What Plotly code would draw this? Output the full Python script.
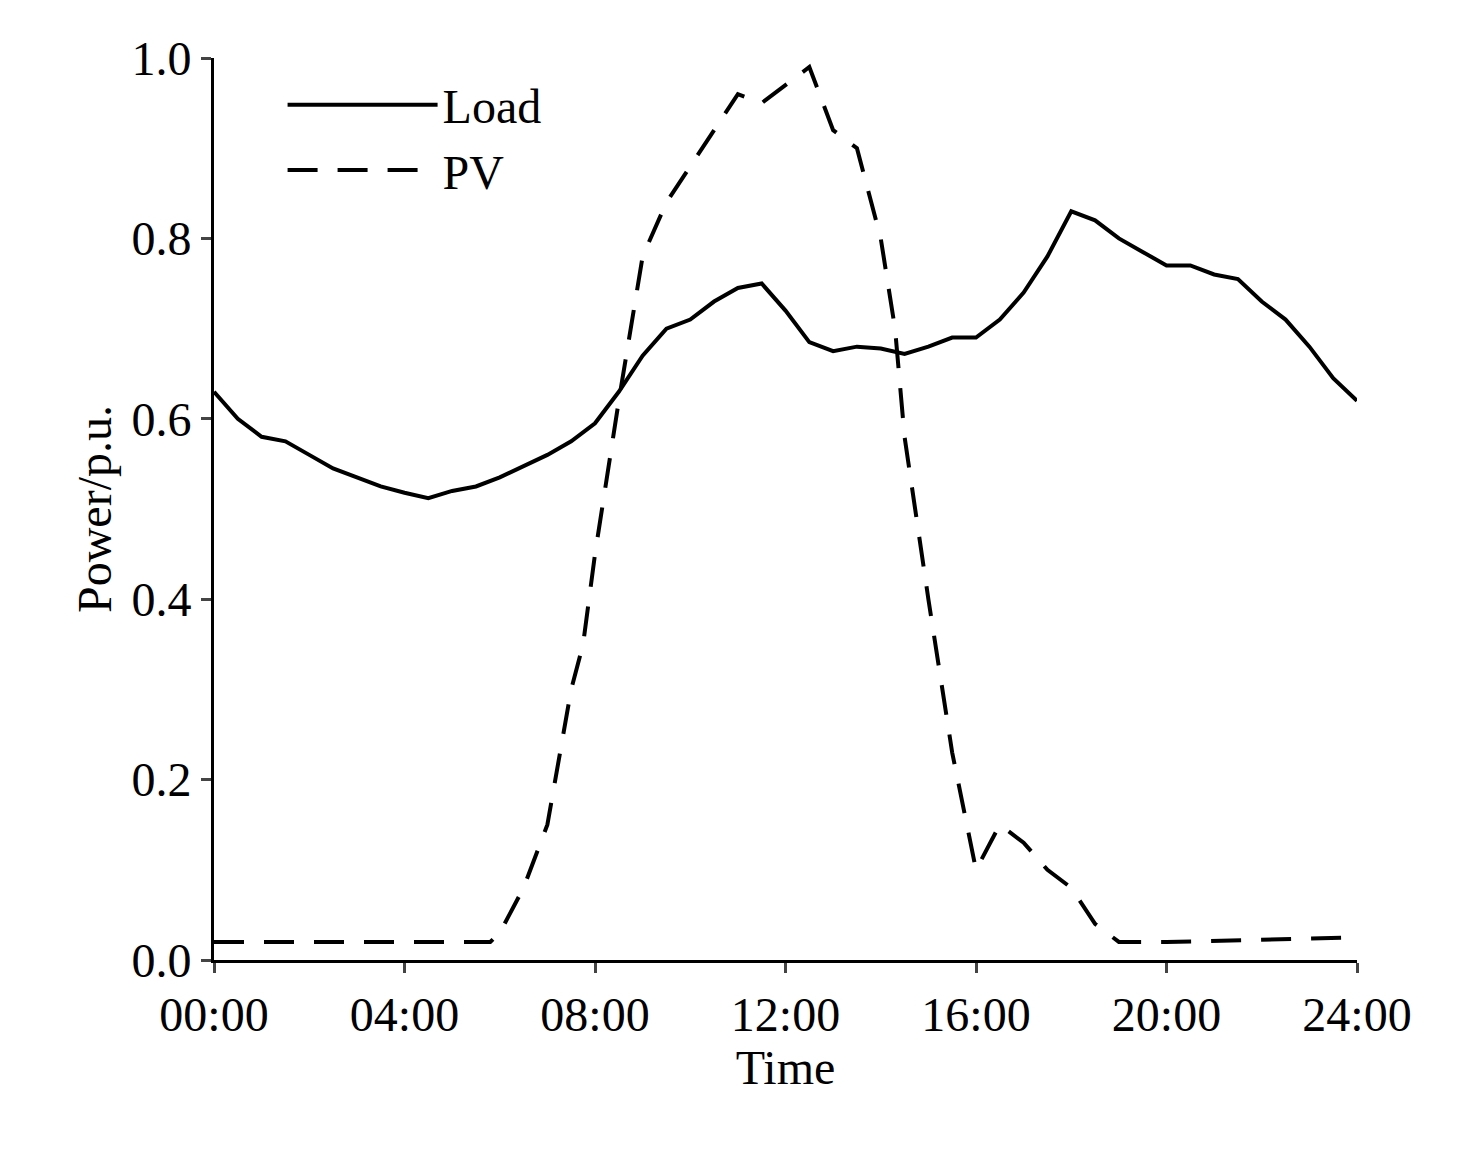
import plotly.graph_objects as go

load_t = [i*0.5 for i in range(49)]
load_v = [0.63,0.60,0.58,0.575,0.56,0.545,0.535,0.525,0.518,0.512,0.52,0.525,0.535,0.548,0.56,0.575,
          0.595,0.63,0.67,0.70,0.71,0.73,0.745,0.75,0.72,0.685,0.675,0.68,0.678,0.672,0.68,0.69,
          0.69,0.71,0.74,0.78,0.83,0.82,0.80,0.785,0.77,0.77,0.76,0.755,0.73,0.71,0.68,0.645,0.62]

pv_t = [0,5.8,6,6.5,7,7.5,7.75,8,8.5,9,9.5,10,10.5,11,11.5,12,12.5,13,13.5,14,14.3,14.5,15,15.5,16,16.5,17,17.5,18,18.5,19,20,22,24]
pv_v = [0.02,0.02,0.03,0.08,0.15,0.30,0.35,0.45,0.62,0.78,0.84,0.88,0.92,0.96,0.95,0.97,0.99,0.92,0.90,0.80,0.70,0.58,0.40,0.23,0.10,0.15,0.13,0.10,0.08,0.04,0.02,0.02,0.022,0.025]

tick_vals = [0,4,8,12,16,20,24]
tick_text = ["00:00","04:00","08:00","12:00","16:00","20:00","24:00"]

fig = go.Figure()
fig.add_trace(go.Scatter(x=load_t, y=load_v, mode="lines", name="Load", line=dict(color="black", width=4)))
fig.add_trace(go.Scatter(x=pv_t, y=pv_v, mode="lines", name="PV", line=dict(color="black", width=4, dash="30px,20px")))
font = dict(family="Liberation Serif, Times New Roman, serif", size=48, color="black")
fig.update_layout(
    width=1470, height=1153, plot_bgcolor="white", paper_bgcolor="white", font=font,
    margin=dict(l=206, r=121, t=50, b=201),
    legend=dict(x=0.06, y=0.99, xanchor="left", yanchor="top", bgcolor="rgba(0,0,0,0)", font=font,
                itemwidth=150),
    xaxis=dict(range=[0,24], tickvals=tick_vals, ticktext=tick_text, showgrid=False, zeroline=False,
               showline=True, linecolor="black", linewidth=3, ticks="outside", ticklen=10, tickwidth=3,
               title=dict(text="Time", font=font, standoff=5)),
    yaxis=dict(range=[0,1], tickvals=[0,0.2,0.4,0.6,0.8,1.0], ticktext=["0.0","0.2","0.4","0.6","0.8","1.0"],
               showgrid=False, zeroline=False, showline=True, linecolor="black", linewidth=3,
               ticks="outside", ticklen=10, tickwidth=3, title=dict(text="Power/p.u.", font=font, standoff=5)),
)
fig.write_html("out.html")
